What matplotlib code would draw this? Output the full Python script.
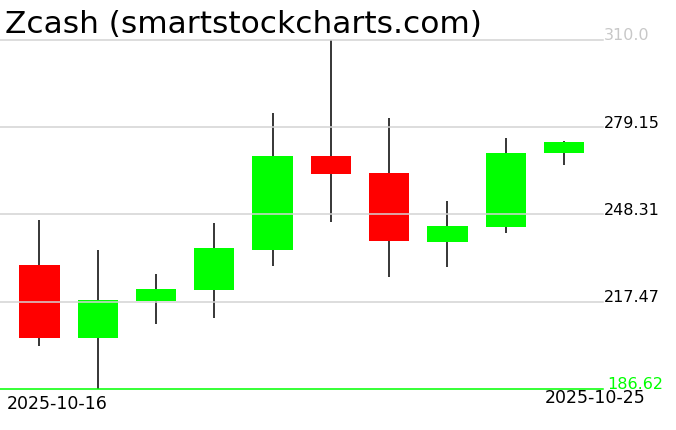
import matplotlib
matplotlib.use("Agg")
import matplotlib.pyplot as plt
import matplotlib.transforms as mtransforms

# daily OHLC
dates = ["2025-10-16", "2025-10-17", "2025-10-18", "2025-10-19", "2025-10-20",
         "2025-10-21", "2025-10-22", "2025-10-23", "2025-10-24", "2025-10-25"]
opens = [230.4, 204.7, 217.7, 221.7, 235.8, 269.0, 263.0, 238.7, 244.0, 270.1]
highs = [246.3, 235.7, 227.2, 245.3, 284.2, 310.0, 282.4, 253.1, 275.3, 274.3]
lows = [201.9, 186.62, 209.7, 211.8, 230.2, 245.7, 226.3, 229.8, 241.6, 265.9]
closes = [204.7, 218.0, 221.9, 236.4, 269.0, 262.7, 239.0, 244.2, 270.0, 273.9]

tick_values = [310.0, 279.15, 248.31, 217.47]
tick_labels = ["310.0", "279.15", "248.31", "217.47"]
floor_value = 186.62
floor_label = "186.62"

UP, DOWN = "#00ff00", "#ff0000"
GRID = "#d3d3d3"

fig = plt.figure(figsize=(6.76, 4.31), dpi=100)
ax = fig.add_axes([0, 0, 1, 1])
ax.set_axis_off()
ax.set_xlim(-0.676, 10.92)
ax.set_ylim(172.07, 324.5)

x = list(range(len(dates)))
# wicks first, bodies over them
ax.vlines(x, lows, highs, color="black", lw=1.1, zorder=1)
for i in x:
    o, c = opens[i], closes[i]
    ax.bar(i, abs(c - o), bottom=min(o, c), width=0.69,
           color=UP if c >= o else DOWN, zorder=2)

# horizontal grid lines end where the price labels begin
trans = mtransforms.blended_transform_factory(ax.transAxes, ax.transData)
grid_end = 603 / 676
for v, lab in zip(tick_values, tick_labels):
    ax.plot([0, grid_end], [v, v], color=GRID, lw=1.1, transform=trans, zorder=3)
    col = "#c8c8c8" if lab == "310.0" else "black"
    ax.annotate(lab, (grid_end, v), xycoords=trans, xytext=(0.5, 0.5),
                textcoords="offset points", ha="left", va="baseline",
                fontsize=11.5, color=col)
ax.plot([0, grid_end], [floor_value, floor_value], color=UP, lw=1.1,
        transform=trans, zorder=3)
ax.annotate(floor_label, (grid_end, floor_value), xycoords=trans,
            xytext=(3, 0.5), textcoords="offset points", ha="left",
            va="baseline", fontsize=11.5, color=UP)

# first / last date
ax.annotate(dates[0], (x[0], floor_value), xytext=(13, -4),
            textcoords="offset points", ha="center", va="top",
            fontsize=12.5, color="black")
ax.annotate(dates[-1], (x[-1], floor_value), xytext=(22, 0.5),
            textcoords="offset points", ha="center", va="top",
            fontsize=12.5, color="black")

fig.text(5 / 676, 1 - 33 / 431, "Zcash (smartstockcharts.com)", ha="left",
         va="baseline", fontsize=22.5, color="black")

fig.savefig("out.png", dpi=100)
